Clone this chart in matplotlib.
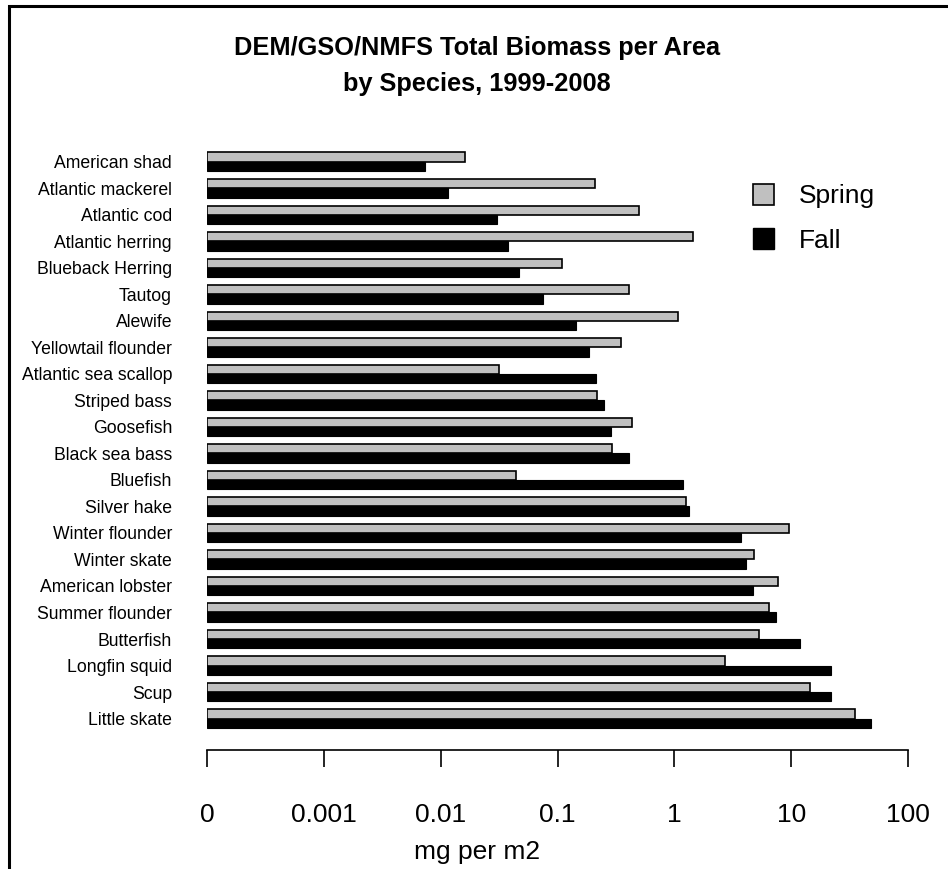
import matplotlib
matplotlib.use("Agg")
import matplotlib.pyplot as plt
import numpy as np
from matplotlib.patches import Rectangle, Patch

plt.rcParams['font.family'] = ['Liberation Sans', 'DejaVu Sans']

species = ["American shad", "Atlantic mackerel", "Atlantic cod", "Atlantic herring",
           "Blueback Herring", "Tautog", "Alewife", "Yellowtail flounder",
           "Atlantic sea scallop", "Striped bass", "Goosefish", "Black sea bass",
           "Bluefish", "Silver hake", "Winter flounder", "Winter skate",
           "American lobster", "Summer flounder", "Butterfish", "Longfin squid",
           "Scup", "Little skate"]
spring = [0.0162, 0.210, 0.500, 1.45, 0.109, 0.410, 1.08, 0.351,
          0.0316, 0.218, 0.436, 0.293, 0.0440, 1.26, 9.61, 4.82,
          7.69, 6.48, 5.32, 2.74, 14.5, 35.3]
fall = [0.00734, 0.0116, 0.0304, 0.0378, 0.0469, 0.0753, 0.144, 0.187,
        0.213, 0.251, 0.286, 0.410, 1.19, 1.33, 3.73, 4.12,
        4.70, 7.48, 11.9, 21.9, 21.9, 48.4]
tick_vals = [1e-4, 1e-3, 1e-2, 1e-1, 1, 10, 100]
tick_labels = ["0", "0.001", "0.01", "0.1", "1", "10", "100"]

W, H = 948, 869
fig = plt.figure(figsize=(W / 100, H / 100), dpi=100)

# outer frame
fig.add_artist(Rectangle((9 / W, -0.05), 1.2, 1 - 6 / H + 0.05, transform=fig.transFigure,
                         fill=False, edgecolor='black', linewidth=2.2))

left, right = 207 / W, 908 / W
top, bottom = 1 - 148.5 / H, 1 - 731.8 / H
ax = fig.add_axes([left, bottom, right - left, top - bottom])

y = np.arange(len(species))
h = 0.35
base = 1e-4
ax.barh(y - h / 2, np.array(spring) - base, left=base, height=h, color='#c0c0c0',
        edgecolor='black', linewidth=1.2, label='Spring')
ax.barh(y + h / 2, np.array(fall) - base, left=base, height=h, color='black',
        edgecolor='black', linewidth=0.8, label='Fall')

ax.set_xscale('log')
for s in ['top', 'right', 'left']:
    ax.spines[s].set_visible(False)
ax.spines['bottom'].set_position(('outward', 13))
ax.spines['bottom'].set_linewidth(1.2)
ax.set_xlim(1e-4, 100)
ax.set_ylim(len(species) - 0.5, -0.5)
ax.set_xticks(tick_vals)
ax.set_xticklabels(tick_labels)
ax.xaxis.set_minor_locator(matplotlib.ticker.NullLocator())
ax.set_yticks(y)
ax.set_yticklabels(species)
ax.tick_params(axis='y', length=0, pad=35 * 0.72, labelsize=12.7)
ax.tick_params(axis='x', length=12.2, width=1.2, pad=26, direction='out', labelsize=19)
ax.set_facecolor('none')

fig.text(477 / W, 1 - 852 / H, "mg per m2", ha='center', va='center', fontsize=19)
fig.text(477 / W, 1 - 48 / H, "DEM/GSO/NMFS Total Biomass per Area", ha='center',
         va='center', fontsize=18.3, fontweight='bold')
fig.text(477 / W, 1 - 84 / H, "by Species, 1999-2008", ha='center',
         va='center', fontsize=18.3, fontweight='bold')

handles = [Patch(facecolor='#c0c0c0', edgecolor='black', linewidth=1.2),
           Patch(facecolor='black', edgecolor='black')]
fig.legend(handles, ['Spring', 'Fall'], loc='upper left',
           bbox_to_anchor=(729 / W, 1 - 160 / H), frameon=False, fontsize=19,
           handlelength=0.8, handleheight=0.85, handletextpad=0.95, labelspacing=0.75)

fig.savefig("out.png", dpi=100)
